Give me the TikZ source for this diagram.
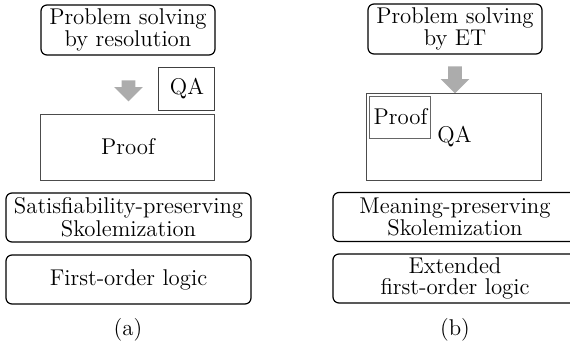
\documentclass[tikz,border=0pt]{standalone}
\usepackage{tikz}
\usetikzlibrary{shapes,arrows,positioning,calc}

\begin{document}
\begin{tikzpicture}[x=0.5pt,y=-0.5pt,font=\fontsize{11.4}{10.2}\selectfont]
	\tikzstyle{block} = [draw,rectangle,rounded corners=3pt,line width=0.6pt,align=center,inner sep=1pt,minimum width=87pt,minimum height=25pt]
	\tikzstyle{block2} = [draw,rectangle,rounded corners=3pt,line width=0.6pt,align=center,inner sep=1pt,minimum width=122.5pt,minimum height=24.5pt]
	\tikzstyle{box} = [draw=black!75,rectangle,line width=0.5pt,inner sep=1pt]
	\tikzset{
		down arrow/.style={single arrow, rotate=-90, fill=gray!65, draw=none, inner sep=3.25pt,
			single arrow head extend=3.75pt, minimum width=14pt}
	}
	\useasboundingbox (0,0) rectangle (570,343);
	\clip (0,0) rectangle (570,343);
	
	% (a)
	\node[block] (T1) at (128,30) {Problem solving\\by resolution};
	\node[down arrow,minimum height=10.5pt] (A1) at (128.5,87.5) {};
	\node[box,minimum width=28pt,minimum height=21.5pt] (T2) at (187,88.5) {QA};
	\node[box,draw=black!70,minimum width=87pt,minimum height=33pt] (T3) at (128,147) {Proof};
	\node[block2] (T4) at (128.5,217.5) {Satisfiability-preserving\\Skolemization};
	\node[block2] (T5) at (128.5,279.5) {First-order logic};
	\node (Ca) at (128,330) {(a)};
	
	% (b)
	\node[block] (T6) at (455,29) {Problem solving\\by ET};
	\node[down arrow,minimum height=13.5pt] (A2) at (455,76.5) {};
	\node[box,draw=black!70,minimum width=87.5pt,minimum height=43.5pt] (T7) at (454.5,136.5) {QA};
	\node[box,draw=black!60,minimum width=30.5pt,minimum height=21pt] (T8) at (400.5,117) {Proof};
	\node[block2,minimum width=122pt] (T9) at (455,217) {Meaning-preserving\\Skolemization};
	\node[block2,minimum width=122pt] (T10) at (455,278.5) {Extended\\first-order logic};
	\node (Cb) at (455,330) {(b)};
\end{tikzpicture}
\end{document}
